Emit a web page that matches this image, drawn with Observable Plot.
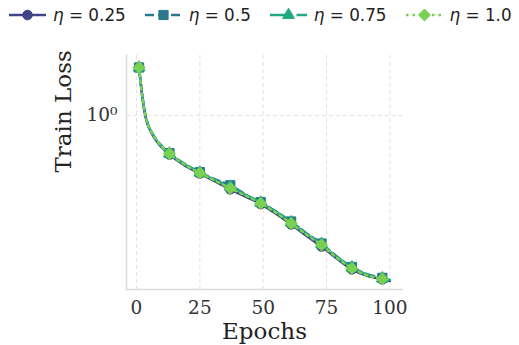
<!DOCTYPE html>
<html>
<head>
<meta charset="utf-8">
<script src="https://cdn.jsdelivr.net/npm/d3@7"></script>
<script src="https://cdn.jsdelivr.net/npm/@observablehq/plot@0.6"></script>
<style>
  body { margin: 0; background: #fff; }
  #legend { display: flex; align-items: center; height: 30px; padding-left: 9px; gap: 19px; width: 519px; box-sizing: border-box;
    font-family: "DejaVu Sans", sans-serif; font-size: 16.8px; color: #222; white-space: nowrap; overflow: visible; }
  .item { display: flex; align-items: center; flex-shrink: 0; white-space: nowrap; }
  .item span { margin-left: 7px; white-space: nowrap; }
  .item svg { overflow: visible; flex-shrink: 0; }
</style>
</head>
<body>
<div id="legend"></div>
<div id="chart"></div>
<script>
const seriesNames = ["0.25", "0.5", "0.75", "1.0"];
const colors = ["#414487", "#2a788e", "#22a884", "#7ad151"];
const dashes = ["none", "9,4", "16,4,2.5,4", "2.5,4"];
const symbols = ["circle", "square", "triangle", "diamond2"];
const markerR = [4.8, 5.2, 4.4, 5.4];

const epochs = [1,2,3,4,6,8,10,13,19,25,31,37,43,49,55,61,67,73,79,85,91,97,100];
const markerEpochs = [1,13,25,37,49,61,73,85,97];

const loss025 = [1.653,1.29,1.065,0.94,0.83,0.762,0.716,0.665,0.594,0.545,0.502,0.462,0.428,0.396,0.358,0.320,0.284,0.254,0.224,0.200,0.187,0.180,0.177];
const loss05  = [1.653,1.31,1.08,0.953,0.84,0.773,0.727,0.675,0.603,0.553,0.512,0.482,0.438,0.404,0.367,0.330,0.292,0.262,0.229,0.205,0.190,0.183,0.179];
const loss075 = [1.653,1.30,1.078,0.95,0.838,0.771,0.725,0.672,0.601,0.551,0.509,0.475,0.436,0.402,0.365,0.327,0.290,0.261,0.228,0.204,0.189,0.182,0.179];
const loss10  = [1.653,1.30,1.076,0.949,0.837,0.770,0.723,0.670,0.599,0.548,0.506,0.467,0.433,0.399,0.362,0.323,0.288,0.258,0.226,0.202,0.188,0.181,0.178];
const allLoss = [loss025, loss05, loss075, loss10];

const xTicks = [0, 25, 50, 75, 100];
const yTicks = [1];

const marks = [
  Plot.gridX(xTicks, {stroke: "#e2e2e2", strokeOpacity: 1, strokeDasharray: "4,3", strokeWidth: 1}),
  Plot.gridY(yTicks, {stroke: "#e2e2e2", strokeOpacity: 1, strokeDasharray: "4,3", strokeWidth: 1}),
  Plot.frame({anchor: "left", stroke: "#dcdcdc", strokeWidth: 1.6}),
  Plot.frame({anchor: "bottom", stroke: "#dcdcdc", strokeWidth: 1.6}),
  Plot.axisX(xTicks, {tickSize: 0, tickPadding: 11, fontSize: 18.5, fill: "#333", label: null}),
  Plot.axisY(yTicks, {tickSize: 0, tickPadding: 9, fontSize: 18.5, fill: "#333", label: null, tickFormat: () => "10\u2070"}),
  Plot.text(["Train Loss"], {frameAnchor: "left", dx: -63, rotate: -90, fontSize: 23, fill: "#222"}),
  Plot.text(["Epochs"], {frameAnchor: "bottom", dy: 49, fontSize: 23, fill: "#222"})
];

allLoss.forEach((vals, i) => {
  const data = epochs.map((e, j) => ({epoch: e, loss: vals[j]}));
  const mdata = data.filter(d => markerEpochs.includes(d.epoch));
  marks.push(Plot.line(data, {x: "epoch", y: "loss", stroke: colors[i], strokeWidth: 2.5,
    strokeDasharray: dashes[i] === "none" ? undefined : dashes[i], curve: "monotone-x"}));
  marks.push(Plot.dot(mdata, {x: "epoch", y: "loss", symbol: () => symbols[i], r: markerR[i],
    fill: colors[i], stroke: colors[i], strokeWidth: 1}));
});

const chart = Plot.plot({
  width: 519, height: 315,
  marginTop: 25, marginBottom: 56, marginLeft: 126, marginRight: 117,
  style: {fontFamily: "DejaVu Serif, serif", background: "#fff"},
  x: {domain: [-3.95, 104.95], axis: null},
  y: {type: "log", domain: [0.162, 1.874], axis: null},
  symbol: {range: symbols, domain: symbols},
  marks
});
document.getElementById("chart").appendChild(chart);

// legend
const legend = document.getElementById("legend");
const symMap = {circle: d3.symbolCircle, square: d3.symbolSquare, triangle: d3.symbolTriangle, diamond2: d3.symbolDiamond2};
seriesNames.forEach((name, i) => {
  const item = document.createElement("div");
  item.className = "item";
  const svg = d3.create("svg").attr("width", 37).attr("height", 14);
  svg.append("line").attr("x1", 0).attr("x2", 37).attr("y1", 7).attr("y2", 7)
    .attr("stroke", colors[i]).attr("stroke-width", 2.5)
    .attr("stroke-dasharray", dashes[i] === "none" ? null : dashes[i]);
  svg.append("path").attr("transform", "translate(18.5,7)")
    .attr("d", d3.symbol(symMap[symbols[i]], Math.PI * markerR[i] * markerR[i])())
    .attr("fill", colors[i]).attr("stroke", colors[i]);
  item.appendChild(svg.node());
  const span = document.createElement("span");
  span.innerHTML = "<i>\u03b7</i> = " + name;
  item.appendChild(span);
  legend.appendChild(item);
});
</script>
</body>
</html>
